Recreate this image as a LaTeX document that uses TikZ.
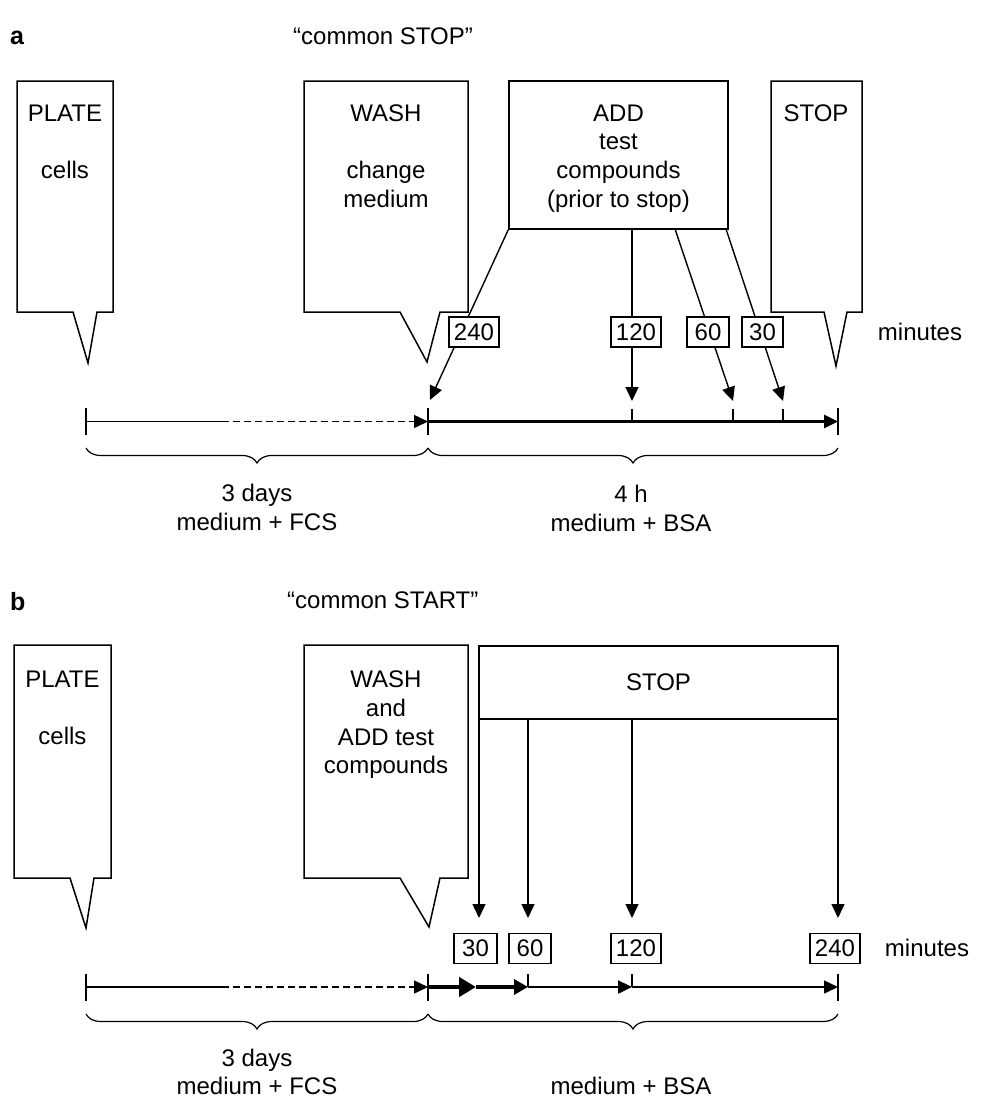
\documentclass[tikz,border=0pt]{standalone}
\usepackage{fontspec}
\setmainfont{Liberation Sans}
\usetikzlibrary{arrows.meta,decorations.pathreplacing}
\begin{document}
\begin{tikzpicture}[x=1pt,y=-1pt,
 txt/.style={font=\fontsize{24}{28.8}\selectfont, inner sep=0pt, anchor=base},
 hd/.style={font=\fontsize{25}{30}\selectfont\bfseries, inner sep=0pt, anchor=base west},
 callout/.style={draw, line width=1.5pt, line join=miter},
 box/.style={draw, line width=1.5pt, inner sep=0pt, font=\fontsize{24}{28.8}\selectfont},
 lbl/.style={draw, line width=1.2pt, fill=white, inner sep=0pt, minimum height=30pt, font=\fontsize{24}{28.8}\selectfont},
 tip/.style={-{Triangle[length=14pt,width=13pt]}},
 conn/.style={line width=1.4pt, tip},
 tickline/.style={line width=1.5pt},
 brc/.style={decorate, decoration={brace, amplitude=15pt, mirror}, line width=1.2pt},
]
\useasboundingbox (0,0) rectangle (981,1098);

% ================= panel a =================
\node[hd] (la) at (10,44) {a};
\node[txt, anchor=base west] (hda) at (293,44) {“common STOP”};

% callouts
\draw[callout] (17,81) -- (113,81) -- (113,312) -- (97,312) -- (88,363) -- (73,312) -- (17,312) -- cycle;
\draw[callout] (304,81) -- (468,81) -- (468,312) -- (440,312) -- (427,362) -- (400,312) -- (304,312) -- cycle;
\draw[callout] (771,81) -- (862,81) -- (862,312) -- (847,312) -- (836,366) -- (824,312) -- (771,312) -- cycle;
\node[box, minimum width=219pt, minimum height=148pt] (addA) at (618.5,155) {};

\node[txt] (plA1) at (65,121) {PLATE};
\node[txt] (plA2) at (65,178) {cells};
\node[txt] (waA1) at (386,121) {WASH};
\node[txt] (waA2) at (386,178) {change};
\node[txt] (waA3) at (386,207) {medium};
\node[txt] (adA1) at (618.5,121) {ADD};
\node[txt] (adA2) at (618.5,149.5) {test};
\node[txt] (adA3) at (618.5,178) {compounds};
\node[txt] (adA4) at (618.5,207) {(prior to stop)};
\node[txt] (stA1) at (816,121) {STOP};
\node[txt] (minA) at (920,340) {minutes};

% timeline a
\coordinate (t0a) at (86,421.5);
\coordinate (dsa) at (222,421.5);
\coordinate (tWa) at (428,421.5);
\coordinate (t120a) at (632,421.5);
\coordinate (t60a) at (733,421.5);
\coordinate (t30a) at (783,421.5);
\coordinate (tEa) at (838,421.5);

\draw[tickline] (t0a) -- (dsa);
\draw[tickline, dash pattern=on 7pt off 4pt, tip] (dsa) -- (tWa);
\draw[line width=2.6pt, tip] (tWa) -- (tEa);
\foreach \c in {t0a,tWa,tEa} \draw[tickline] ([yshift=13.5pt]\c) -- ([yshift=-13.5pt]\c);
\foreach \c in {t120a,t60a,t30a} \draw[tickline] ([yshift=13pt]\c) -- (\c);

% arrows from ADD
\coordinate (s60a) at (675,229);
\coordinate (s30a) at (726,229);
\coordinate (e240a) at (430,400);
\coordinate (e120a) at (632,401);
\coordinate (e60a) at (733,401);
\coordinate (e30a) at (783,401);
\draw[conn] (addA.south west) -- (e240a);
\draw[conn] (e120a |- addA.south) -- (e120a);
\draw[conn] (s60a) -- (e60a);
\draw[conn] (s30a) -- (e30a);
\node[lbl, minimum width=50pt] (n240a) at (474,332) {240};
\node[lbl, minimum width=50pt] (n120a) at (636,332) {120};
\node[lbl, minimum width=42pt] (n60a) at (708,332) {60};
\node[lbl, minimum width=41pt] (n30a) at (762.5,332) {30};

% braces a
\draw[brc] (t0a |- 0,448) -- (tWa |- 0,448);
\draw[brc] (tWa |- 0,448) -- (tEa |- 0,448);
\node[txt] (bA1) at (257,501) {3 days};
\node[txt] (bA2) at (257,530) {medium + FCS};
\node[txt] (bA3) at (631,502) {4 h};
\node[txt] (bA4) at (631,531) {medium + BSA};

% ================= panel b =================
\node[hd] (lb) at (10,610) {b};
\node[txt, anchor=base west] (hdb) at (287,608) {“common START”};

\draw[callout] (14,645) -- (111,645) -- (111,878) -- (94,878) -- (86,928) -- (70,878) -- (14,878) -- cycle;
\draw[callout] (304,645) -- (468,645) -- (468,878) -- (440,878) -- (429,927) -- (400,878) -- (304,878) -- cycle;
\node[box, minimum width=359pt, minimum height=73pt] (stopB) at (658.5,682.5) {STOP};

\node[txt] (plB1) at (62.5,687) {PLATE};
\node[txt] (plB2) at (62.5,744) {cells};
\node[txt] (waB1) at (386,687) {WASH};
\node[txt] (waB2) at (386,716) {and};
\node[txt] (waB3) at (386,745) {ADD test};
\node[txt] (waB4) at (386,773) {compounds};
\node[txt] (minB) at (927,956) {minutes};

% arrows from STOP
\coordinate (e30b) at (479,918);
\coordinate (e60b) at (528,918);
\coordinate (e120b) at (632,918);
\coordinate (e240b) at (838,918);
\foreach \c in {e30b,e60b,e120b,e240b} \draw[conn] (\c |- stopB.south) -- (\c);

\node[lbl, minimum width=43pt] (n30b) at (475.5,948.5) {30};
\node[lbl, minimum width=42pt] (n60b) at (530,948.5) {60};
\node[lbl, minimum width=50pt] (n120b) at (636,948.5) {120};
\node[lbl, minimum width=50pt] (n240b) at (835,948.5) {240};

% timeline b
\coordinate (t0b) at (86,987);
\coordinate (dsb) at (222,987);
\coordinate (tWb) at (428,987);
\coordinate (t30b) at (476,987);
\coordinate (t60b) at (528,987);
\coordinate (t120b) at (632,987);
\coordinate (tEb) at (838,987);

\draw[tickline] (t0b) -- (dsb);
\draw[tickline, dash pattern=on 7pt off 4pt, tip] (dsb) -- (tWb);
\draw[line width=4.5pt, -{Triangle[length=17pt,width=19pt]}] (tWb) -- (t30b);
\draw[line width=3.2pt, -{Triangle[length=14pt,width=15pt]}] (t30b) -- (t60b);
\draw[line width=2.4pt, tip] (t60b) -- (t120b);
\draw[tickline, tip] (t120b) -- (tEb);
\foreach \c in {t0b,tWb,tEb} \draw[tickline] ([yshift=13.5pt]\c) -- ([yshift=-13.5pt]\c);
\foreach \c in {t60b,t120b} \draw[tickline] ([yshift=13pt]\c) -- (\c);

% braces b
\draw[brc] (t0b |- 0,1014) -- (tWb |- 0,1014);
\draw[brc] (tWb |- 0,1014) -- (tEb |- 0,1014);
\node[txt] (bB1) at (257,1066) {3 days};
\node[txt] (bB2) at (257,1094) {medium + FCS};
\node[txt] (bB4) at (631,1094) {medium + BSA};
\end{tikzpicture}
\end{document}
